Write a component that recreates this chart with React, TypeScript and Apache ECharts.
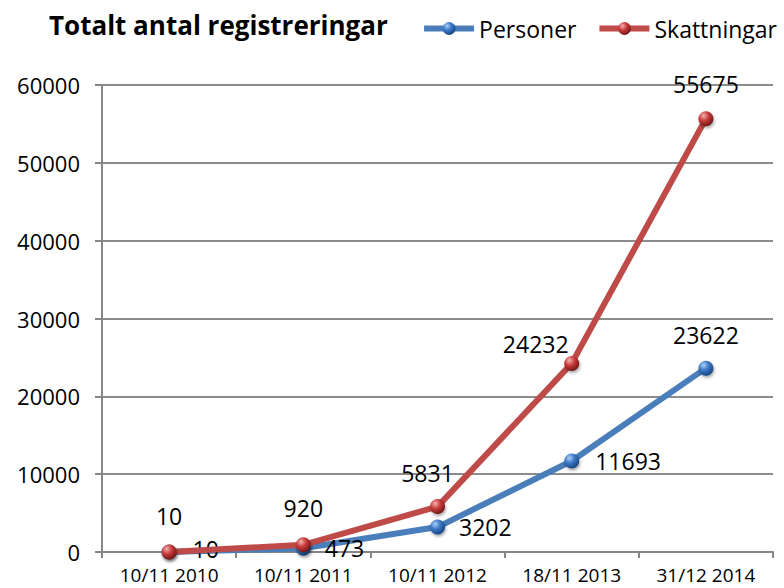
import React, { useEffect, useRef } from "react";
import * as echarts from "echarts";

const categories = ["10/11 2010", "10/11 2011", "10/11 2012", "18/11 2013", "31/12 2014"];
const personer = [10, 473, 3202, 11693, 23622];
const skattningar = [10, 920, 5831, 24232, 55675];
const yMin = 0;
const yMax = 60000;
const yInterval = 10000;

const FONT = "'Open Sans', 'Liberation Sans', sans-serif";

function sphere(base: string, light: string, dark: string) {
  return new echarts.graphic.RadialGradient(0.35, 0.3, 0.75, [
    { offset: 0, color: light },
    { offset: 0.45, color: base },
    { offset: 1, color: dark },
  ]);
}

export default function App() {
  const ref = useRef<HTMLDivElement>(null);
  useEffect(() => {
    if (!ref.current) return;
    const chart = echarts.init(ref.current, undefined, { renderer: "svg" });
    const labelStyle = { color: "#000", fontSize: 23, lineHeight: 22, fontFamily: FONT };
    const pLabels = [
      { position: "right", distance: 16, offset: [0, -3] },
      { position: "right", distance: 14, offset: [0, 0] },
      { position: "right", distance: 14, offset: [0, 0] },
      { position: "right", distance: 16, offset: [0, 0] },
      { position: "top", distance: 15, offset: [0, 0] },
    ];
    const sLabels = [
      { position: "top", distance: 17, offset: [0, 0] },
      { position: "top", distance: 18, offset: [0, 0] },
      { position: "top", distance: 15, offset: [-10, 0] },
      { position: "top", distance: 5, offset: [-36, 4] },
      { position: "top", distance: 16, offset: [0, 0] },
    ];
    chart.setOption({
      animation: false,
      title: {
        text: "Totalt antal registreringar",
        left: 44,
        top: 7,
        textStyle: { fontFamily: FONT, fontWeight: "bold", fontSize: 26, color: "#000" },
      },
      legend: {
        top: 12,
        right: 2,
        itemWidth: 50,
        itemHeight: 16,
        itemGap: 20,
        lineStyle: { width: 6 },
        textStyle: { fontFamily: FONT, fontSize: 23, color: "#000", padding: [0, 0, 0, 0] },
        data: ["Personer", "Skattningar"],
      },
      grid: { left: 102, right: 11, top: 85, bottom: 36, containLabel: false },
      xAxis: {
        type: "category",
        data: categories,
        boundaryGap: true,
        axisLine: { lineStyle: { color: "#868686", width: 2 } },
        axisTick: { show: true, length: 6, alignWithLabel: false, lineStyle: { color: "#868686", width: 2 } },
        axisLabel: { color: "#000", fontFamily: FONT, fontSize: 19, lineHeight: 18, margin: 14 },
        splitLine: { show: false },
      },
      yAxis: {
        type: "value",
        min: yMin,
        max: yMax,
        interval: yInterval,
        axisLine: { show: true, lineStyle: { color: "#868686", width: 2 } },
        axisTick: { show: true, length: 7, lineStyle: { color: "#868686", width: 2 } },
        axisLabel: {
          color: "#000",
          fontFamily: FONT,
          fontSize: 22,
          margin: 22,
          formatter: (v: number) => String(v),
        },
        splitLine: { show: true, lineStyle: { color: "#8c8c8c", width: 2 } },
      },
      series: [
        {
          name: "Personer",
          type: "line",
          data: personer.map((v, i) => ({
            value: v,
            label: { show: true, ...labelStyle, ...pLabels[i] },
          })),
          symbol: "circle",
          symbolSize: 15,
          z: 2,
          lineStyle: { color: "#4a7ebb", width: 6 },
          itemStyle: {
            color: sphere("#3c78c8", "#a9d0f5", "#14427a"),
            shadowColor: "rgba(0,0,0,0.35)",
            shadowBlur: 3,
            shadowOffsetX: 1,
            shadowOffsetY: 2,
          },
        },
        {
          name: "Skattningar",
          type: "line",
          data: skattningar.map((v, i) => ({
            value: v,
            label: { show: true, ...labelStyle, ...sLabels[i] },
          })),
          symbol: "circle",
          symbolSize: 15,
          z: 3,
          lineStyle: { color: "#be4b48", width: 6 },
          itemStyle: {
            color: sphere("#c83c3c", "#f5b0b0", "#6e1414"),
            shadowColor: "rgba(0,0,0,0.35)",
            shadowBlur: 3,
            shadowOffsetX: 1,
            shadowOffsetY: 2,
          },
        },
      ],
    });
    return () => chart.dispose();
  }, []);
  return <div ref={ref} style={{ width: 784, height: 588, position: "absolute", left: 0, top: 0 }} />;
}
